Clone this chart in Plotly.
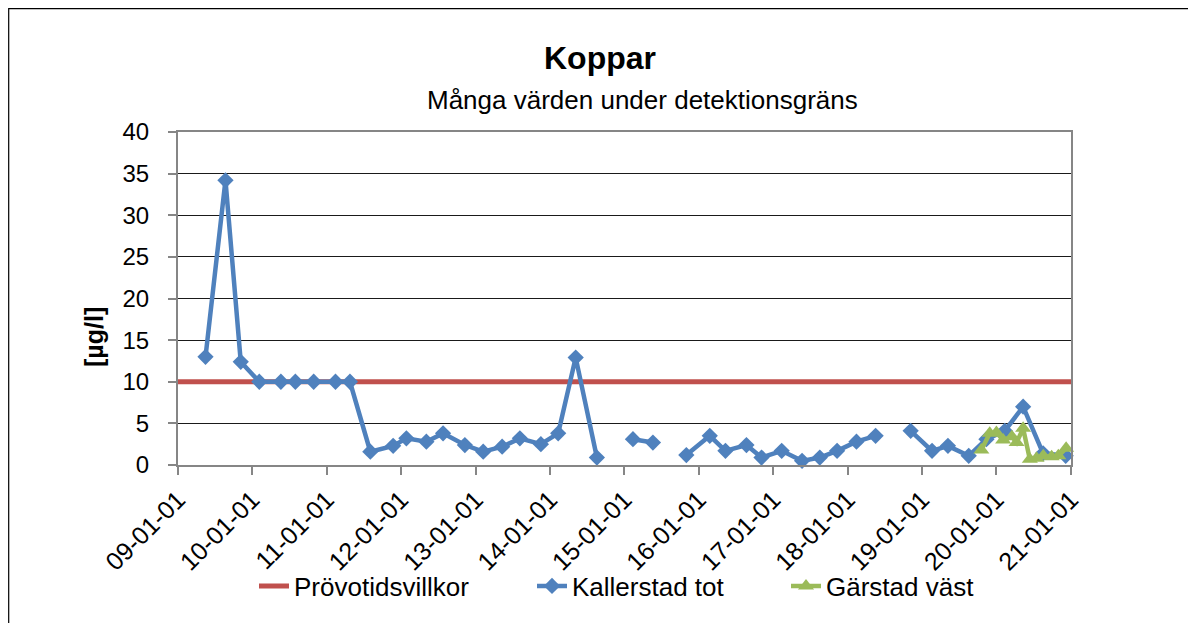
import plotly.graph_objects as go

# ---- data ----
limit_dates = ["2009-01-01", "2021-01-01"]
limit_values = [10, 10]

kallerstad_dates = [
    "2009-05-16", "2009-08-22", "2009-11-05", "2010-02-04", "2010-05-21",
    "2010-07-31", "2010-10-29", "2011-02-13", "2011-04-25", "2011-08-03",
    "2011-11-23", "2012-01-27", "2012-05-04", "2012-07-25", "2012-11-09",
    "2013-02-07", "2013-05-11", "2013-08-06", "2013-11-17", "2014-02-10",
    "2014-05-07", "2014-08-19", "2014-11-15", "2015-02-12", "2015-05-21",
    "2015-08-15", "2015-11-01", "2016-02-24", "2016-05-11", "2016-08-22",
    "2016-11-04", "2017-02-11", "2017-05-22", "2017-08-17", "2017-11-10",
    "2018-02-13", "2018-05-18", "2018-08-15", "2018-11-06", "2019-02-19",
    "2019-05-08", "2019-08-18", "2019-11-13", "2020-02-11", "2020-05-11",
    "2020-08-17", "2020-12-06",
]
kallerstad_values = [
    13.0, 34.2, 12.4, 10.0, 10.0,
    10.0, 10.0, 10.0, 10.0, 1.6,
    2.3, 3.2, 2.8, 3.8, 2.4,
    1.6, 2.2, 3.2, 2.5, 3.8,
    12.9, 0.9, None, 3.1, 2.7,
    None, 1.2, 3.5, 1.7, 2.4,
    0.9, 1.7, 0.5, 0.9, 1.7,
    2.8, 3.5, None, 4.1, 1.7,
    2.3, 1.1, 3.1, 4.1, 7.0,
    1.4, 1.1,
]

garstad_dates = [
    "2019-10-19", "2019-11-29", "2020-01-01", "2020-02-03", "2020-03-17",
    "2020-04-09", "2020-05-11", "2020-06-13", "2020-07-16", "2020-08-18",
    "2020-09-28", "2020-10-31", "2020-12-08",
]
garstad_values = [
    1.8, 3.8, 3.9, 3.0, 3.4,
    2.7, 4.4, 0.7, 0.8, 1.1,
    1.0, 1.1, 2.0,
]

x_tickvals = ["2009-01-01", "2010-01-01", "2011-01-01", "2012-01-01", "2013-01-01",
              "2014-01-01", "2015-01-01", "2016-01-01", "2017-01-01", "2018-01-01",
              "2019-01-01", "2020-01-01", "2021-01-01"]
x_ticktext = ["09-01-01", "10-01-01", "11-01-01", "12-01-01", "13-01-01",
              "14-01-01", "15-01-01", "16-01-01", "17-01-01", "18-01-01",
              "19-01-01", "20-01-01", "21-01-01"]
y_tickvals = [0, 5, 10, 15, 20, 25, 30, 35, 40]

FONT = "Liberation Sans, Arial, sans-serif"
RED = "#C0504D"
BLUE = "#4F81BD"
GREEN = "#9BBB59"
AXIS = "#868686"

fig = go.Figure()
fig.add_trace(go.Scatter(
    x=limit_dates, y=limit_values, mode="lines", name="Prövotidsvillkor",
    line=dict(color=RED, width=5), cliponaxis=False, legend="legend",
))
fig.add_trace(go.Scatter(
    x=kallerstad_dates, y=kallerstad_values, mode="lines+markers", name="Kallerstad tot",
    line=dict(color=BLUE, width=4.5), connectgaps=False,
    marker=dict(symbol="diamond", size=12.5, color=BLUE), cliponaxis=False, legend="legend2",
))
fig.add_trace(go.Scatter(
    x=garstad_dates, y=garstad_values, mode="lines+markers", name="Gärstad väst",
    line=dict(color=GREEN, width=4.5),
    marker=dict(symbol="triangle-up", size=14, color=GREEN), cliponaxis=False, legend="legend3",
))

# page has an 8px body margin; work in page pixel coordinates
OFF = 8
W, H = 1196 - OFF, 623 - OFF
L, R, T, B = 178 - OFF, 1071 - OFF, 132 - OFF, 465 - OFF
pw, ph = R - L, B - T

def px(x):
    return (x - OFF - L) / pw

def py(y):
    return (B - (y - OFF)) / ph

def legend_at(text_start):
    return dict(orientation="h", x=px(text_start - 42), y=py(586), xanchor="left", yanchor="middle",
                font=dict(family=FONT, size=26, color="black"), bgcolor="rgba(0,0,0,0)")

fig.update_layout(
    width=W, height=H,
    margin=dict(l=L, r=W - R, t=T, b=H - B, pad=0),
    paper_bgcolor="white", plot_bgcolor="white",
    font=dict(family=FONT, size=24, color="black"),
    showlegend=True,
    legend=legend_at(296),
    legend2=legend_at(574),
    legend3=legend_at(828),
    xaxis=dict(
        type="date", range=["2009-01-01", "2021-01-01"],
        tickmode="array", tickvals=x_tickvals, ticktext=x_ticktext,
        tickangle=-45, ticks="outside", ticklen=8, tickcolor=AXIS, tickwidth=1.5,
        showgrid=False, zeroline=False,
        showline=True, linecolor=AXIS, linewidth=2, mirror=True,
        tickfont=dict(family=FONT, size=25, color="black"),
    ),
    yaxis=dict(
        range=[0, 40], tickmode="array", tickvals=y_tickvals,
        ticks="outside", ticklen=8, tickcolor=AXIS, tickwidth=1.5,
        showgrid=True, gridcolor="#1a1a1a", gridwidth=1, zeroline=False,
        showline=True, linecolor=AXIS, linewidth=2, mirror=True,
        tickfont=dict(family=FONT, size=24, color="black"),
        ticklabelstandoff=14,
    ),
    annotations=[
        dict(text="<b>Koppar</b>", x=px(600), y=py(58), xref="paper", yref="paper",
             showarrow=False, xanchor="center", yanchor="middle",
             font=dict(family=FONT, size=32, color="black")),
        dict(text="Många värden under detektionsgräns", x=px(642), y=py(100), xref="paper", yref="paper",
             showarrow=False, xanchor="center", yanchor="middle",
             font=dict(family=FONT, size=26, color="black")),
        dict(text="<b>[µg/l]</b>", x=px(94), y=py(337), xref="paper", yref="paper",
             showarrow=False, xanchor="center", yanchor="middle", textangle=-90,
             font=dict(family=FONT, size=25, color="black")),
    ],
    shapes=[
        dict(type="rect", xref="paper", yref="paper",
             x0=px(OFF + 0.7), x1=px(1300), y0=py(700), y1=py(OFF + 0.7),
             line=dict(color="#000000", width=1.2), fillcolor="rgba(0,0,0,0)", layer="below"),
    ],
)

fig.write_html("out.html")
